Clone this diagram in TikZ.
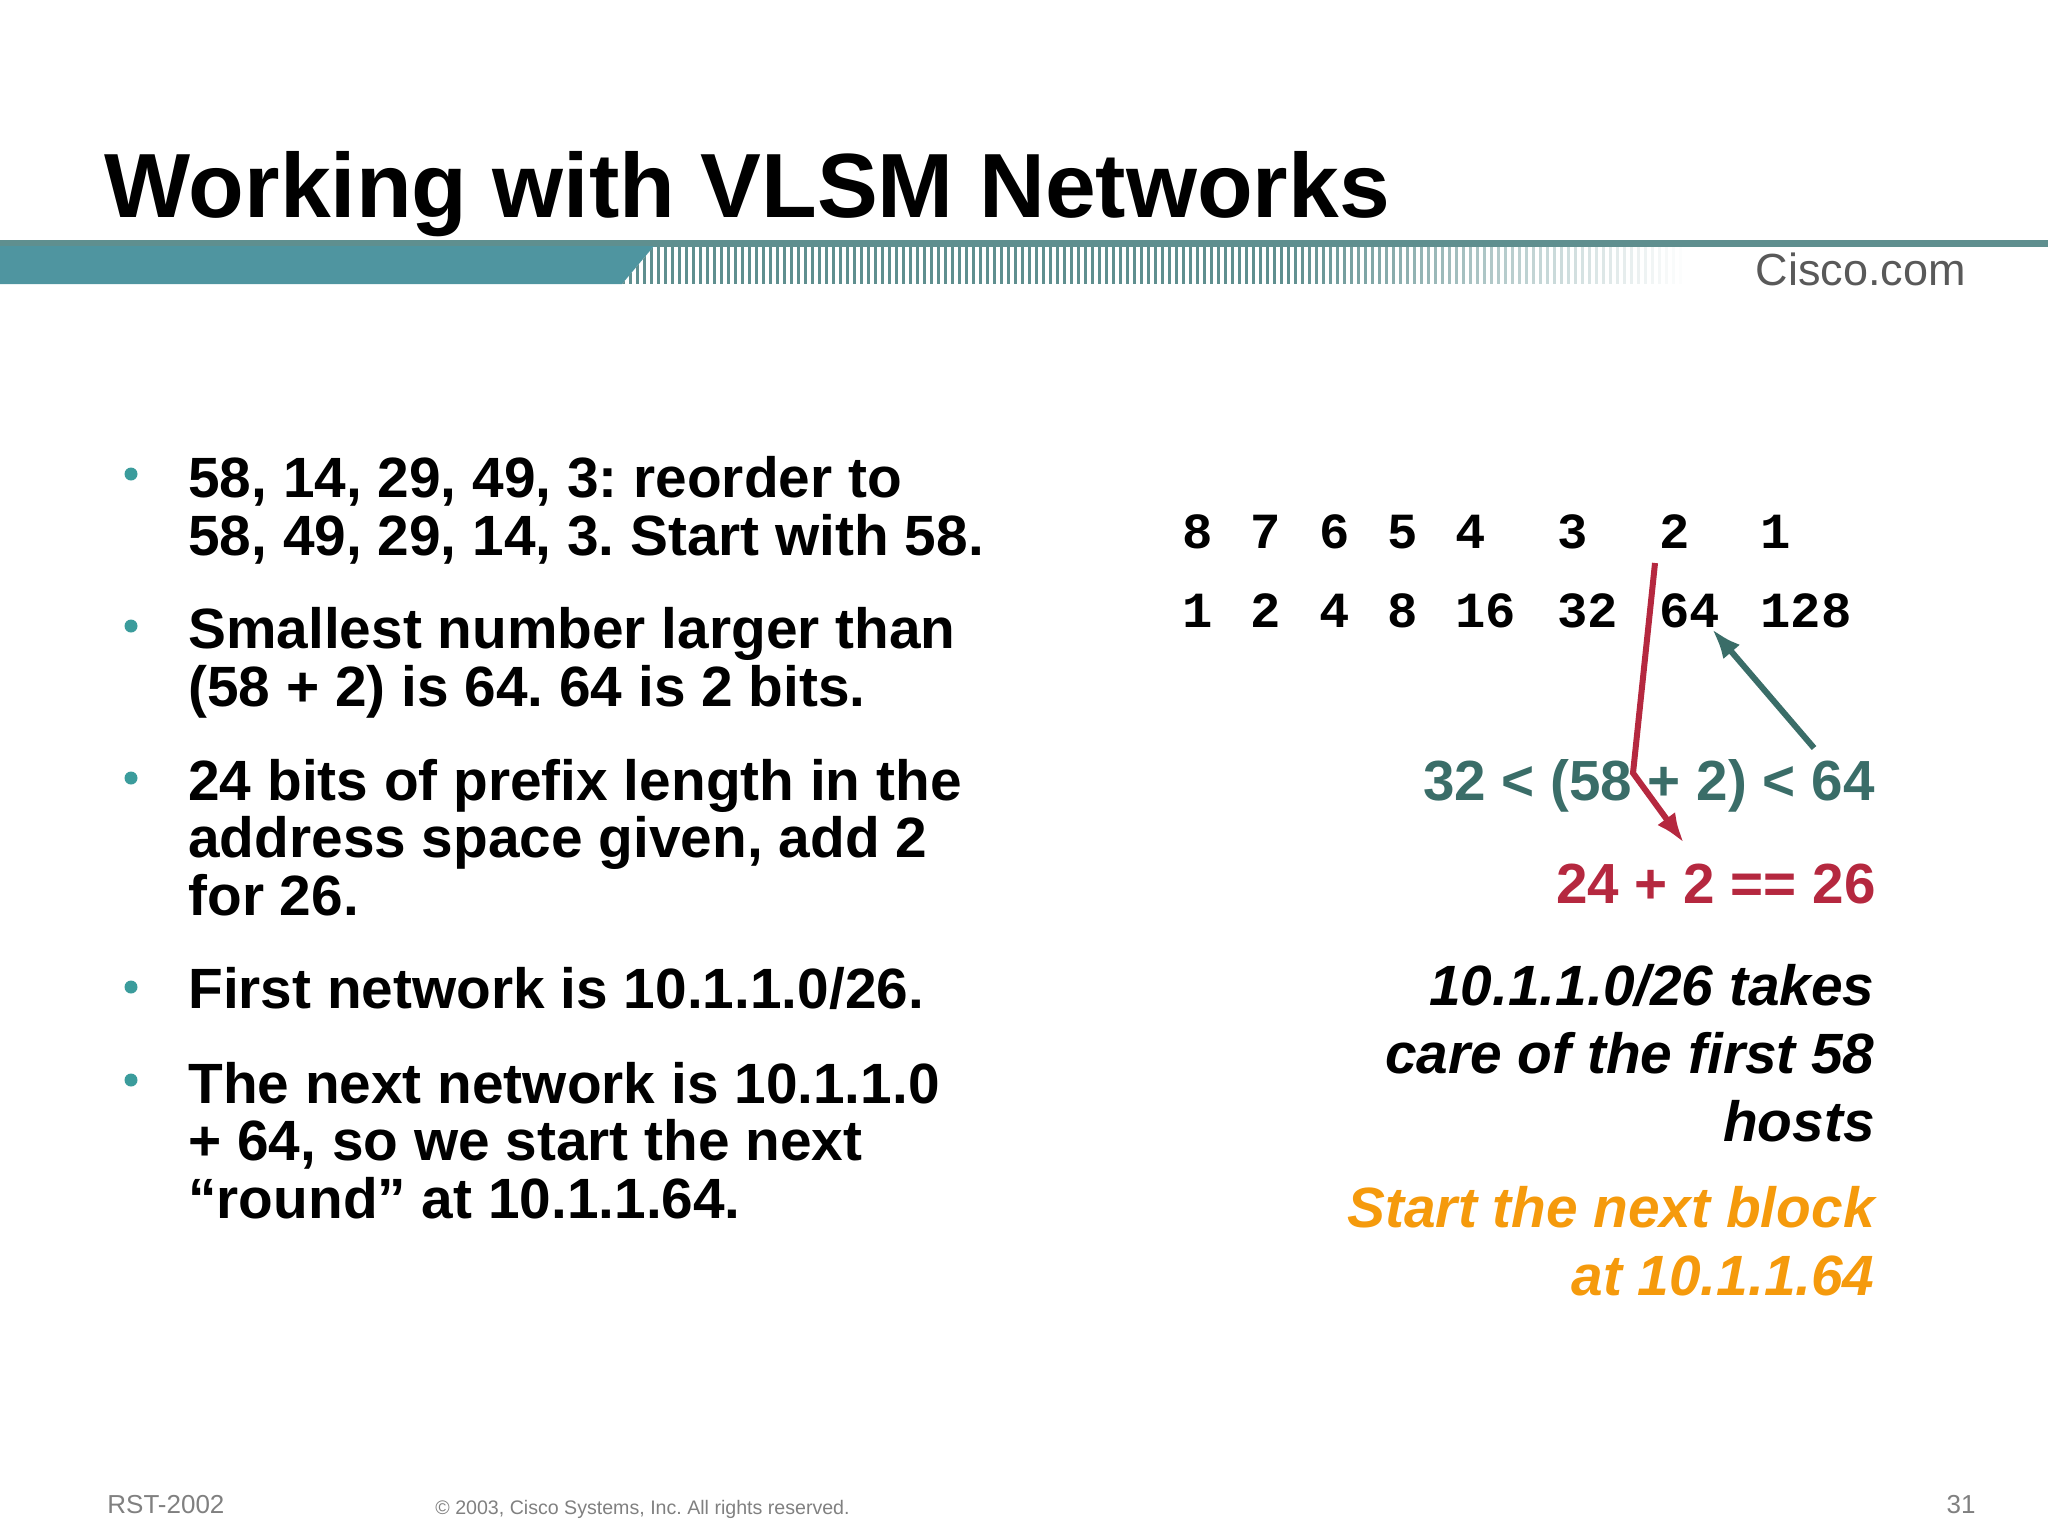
\documentclass[tikz,border=0pt]{standalone}
\usepackage{fontspec}
\usetikzlibrary{arrows.meta}
\setmainfont{Liberation Sans}
\newfontfamily\monofam{Liberation Mono}
\frenchspacing
\definecolor{bandteal}{HTML}{4F95A0}
\definecolor{stripeteal}{HTML}{5F8F8F}
\definecolor{bulletteal}{HTML}{3B9C9C}
\definecolor{sumgreen}{HTML}{3A6D68}
\definecolor{sumred}{HTML}{B5283F}
\definecolor{nextorange}{HTML}{F59A0C}
\tikzset{
  bodytext/.style={anchor=base west, inner sep=0pt, align=left, font=\fontsize{28.4}{28.75}\selectfont\bfseries},
  bulletmark/.style={circle, fill=bulletteal, minimum size=6.5, inner sep=0pt},
  bitnum/.style={anchor=base west, inner sep=0pt, font=\fontsize{25.3}{27}\selectfont\monofam\bfseries},
  sumtext/.style={anchor=base east, inner sep=0pt, font=\fontsize{28.3}{30}\selectfont\bfseries},
  sidenote/.style={anchor=base east, inner sep=0pt, align=right, font=\fontsize{28.4}{34}\selectfont\bfseries\itshape},
  footnotetext/.style={anchor=base west, inner sep=0pt, text=gray},
  sumarrow/.style={line width=3pt, -{Latex[length=15pt,width=11pt]}}
}
\begin{document}
\begin{tikzpicture}[x=0.5pt,y=-0.5pt]
\useasboundingbox (0,0) rectangle (2048,1536);
\fill[stripeteal] (0,240) rectangle (2048,247);
\fill[bandteal] (0,246) -- (654,246) -- (622,284) -- (0,284) -- cycle;
\begin{scope}
\clip (622,284) -- (654,246) -- (2048,246) -- (2048,284) -- cycle;
\foreach \n in {0,...,152} {
  \pgfmathsetmacro{\stripeop}{\n<95 ? 1 : max(0,1-(\n-95)/57)}
  \fill[stripeteal, opacity=\stripeop] ({622+7*\n},246) rectangle ({622+7*\n+3},284);
}
\end{scope}
\node (title) [anchor=base west, inner sep=0pt, font=\fontsize{45.6}{50}\selectfont\bfseries] at (104,217) {Working with VLSM Networks};
\node (cisco) [anchor=base east, inner sep=0pt, text=black!65, font=\fontsize{22.5}{24}\selectfont] at (1966,285) {Cisco.com};

\node (dota) [bulletmark] at (131,474) {};
\node (dotb) [bulletmark] at (131,626) {};
\node (dotc) [bulletmark] at (131,778) {};
\node (dotd) [bulletmark] at (131,987) {};
\node (dote) [bulletmark] at (131,1080) {};
\node (reorder) [bodytext] at (188,555) {58, 14, 29, 49, 3: reorder to\\58, 49, 29, 14, 3. Start with 58.};
\node (smallest) [bodytext] at (188,706) {Smallest number larger than\\(58 + 2) is 64. 64 is 2 bits.};
\node (prefix) [bodytext] at (188,915) {24 bits of prefix length in the\\address space given, add 2\\for 26.};
\node (first) [bodytext] at (188,1008) {First network is 10.1.1.0/26.};
\node (next) [bodytext] at (188,1218) {The next network is 10.1.1.0\\+ 64, so we start the next\\``round'' at 10.1.1.64.};

\foreach \x/\bit/\val in {1182/8/1, 1250/7/2, 1319/6/4, 1387/5/8, 1455/4/16, 1557/3/32, 1659/2/64, 1760/1/128} {
  \node (bit\bit) [bitnum] at (\x,548) {\bit};
  \node (val\bit) [bitnum] at (\x,627) {\val};
}

\node (greensum) [sumtext, text=sumgreen] at (1875,800) {32 < (58 + 2) < 64};
\node (redsum) [sumtext, text=sumred] at (1876,903) {24 + 2 == 26};
\node (takes) [sidenote] at (1875,1141) {10.1.1.0/26 takes\\care of the first 58\\hosts};
\node (block) [sidenote, text=nextorange] at (1875,1295) {Start the next block\\at 10.1.1.64};

\node (rst) [footnotetext, font=\fontsize{13}{15}\selectfont] at (107,1513) {RST-2002};
\node (copy) [footnotetext, font=\fontsize{9.8}{12}\selectfont] at (435,1514) {© 2003, Cisco Systems, Inc. All rights reserved.};
\node (page) [footnotetext, anchor=base east, font=\fontsize{13}{15}\selectfont] at (1976,1513) {31};

\coordinate (redstart) at (1655,563);
\coordinate (redknee) at (1633,773);
\coordinate (redtip) at (1684,843);
\coordinate (greenstart) at (1814,748);
\coordinate (greentip) at (1712,629);
\draw[sumred, sumarrow] (redstart) -- (redknee) -- (redtip);
\draw[sumgreen, sumarrow] (greenstart) -- (greentip);
\end{tikzpicture}
\end{document}
